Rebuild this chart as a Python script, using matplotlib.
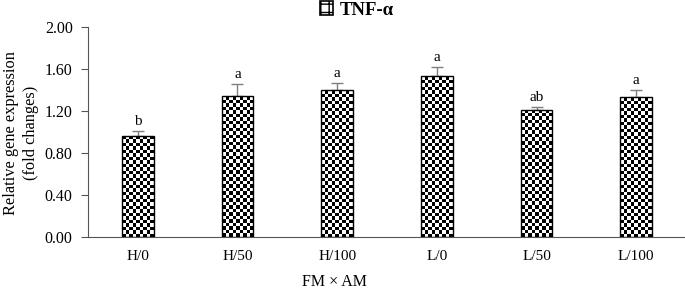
import matplotlib
matplotlib.use("Agg")
import matplotlib.pyplot as plt
import matplotlib.patches as mpatches
import numpy as np

plt.rcParams['font.family'] = ['Liberation Serif', 'DejaVu Serif']
plt.rcParams['font.size'] = 11

# data
groups = ['H/0', 'H/50', 'H/100', 'L/0', 'L/50', 'L/100']
means = [0.96, 1.34, 1.40, 1.53, 1.21, 1.33]
errors = [0.05, 0.12, 0.07, 0.09, 0.03, 0.07]
letters = ['b', 'a', 'a', 'a', 'ab', 'a']
yticks = [0.0, 0.4, 0.8, 1.2, 1.6, 2.0]

fig = plt.figure(figsize=(6.85, 2.89), dpi=100)
ax = fig.add_axes([88 / 685, 1 - 237 / 289, 598 / 685, 210 / 289])

x = np.arange(len(groups))
bars = ax.bar(x, means, width=0.32, facecolor='none', edgecolor='black',
              linewidth=1.0, zorder=3)
ax.errorbar(x, means, yerr=[[0] * len(means), errors], fmt='none',
            ecolor='#7f7f7f', elinewidth=1.0, capsize=4, capthick=1.0, zorder=2)

ax.set_xlim(-0.5, 5.5)
ax.set_ylim(0, 2.0)

# checkerboard fill, clipped to each bar
px_per_unit = 210 / 2.0
cell_px = 3.5
for b in bars:
    bx, bw, bh = b.get_x(), b.get_width(), b.get_height()
    nx = 9
    ny = max(1, int(round(bh * px_per_unit / cell_px)))
    checker = (np.add.outer(np.arange(ny), np.arange(nx)) % 2).astype(float)
    im = ax.imshow(checker, cmap='gray', vmin=0, vmax=1, interpolation='nearest',
                   extent=(bx, bx + bw, 0, bh), aspect='auto', origin='lower',
                   zorder=2.5)
    im.set_clip_path(b)

for xi, m, e, lab in zip(x, means, errors, letters):
    ax.text(xi, m + e + 0.025, lab, ha='center', va='bottom', fontsize=11)

ax.set_yticks(yticks)
ax.set_yticklabels([f'{t:.2f}' for t in yticks], fontsize=11.5)
ax.set_xticks(x)
ax.set_xticklabels(groups, fontsize=11)
ax.tick_params(axis='x', length=0, pad=9)
ax.tick_params(axis='y', length=5, width=0.8, color='#555555', pad=6)

for s in ['top', 'right']:
    ax.spines[s].set_visible(False)
ax.spines['left'].set_color('#555555')
ax.spines['bottom'].set_color('#555555')
ax.spines['left'].set_linewidth(0.8)
ax.spines['bottom'].set_linewidth(0.8)

fig.text(21 / 685, 1 - 133 / 289, 'Relative gene expression\n(fold changes)',
         rotation=90, ha='center', va='center', fontsize=11.8, linespacing=1.4)
fig.text(335 / 685, 1 - 282 / 289, 'FM × AM', ha='center', va='center',
         fontsize=11.5)

handle = mpatches.Patch(facecolor='white', edgecolor='black', hatch='++',
                        linewidth=1.2)
fig.legend([handle], ['TNF-α'], loc='center',
           bbox_to_anchor=(357 / 685, 1 - 10 / 289), frameon=False,
           prop={'weight': 'bold', 'size': 13.5}, handlelength=0.7,
           handleheight=0.7, handletextpad=0.35, borderpad=0.1)

fig.savefig('out.png', dpi=100)
